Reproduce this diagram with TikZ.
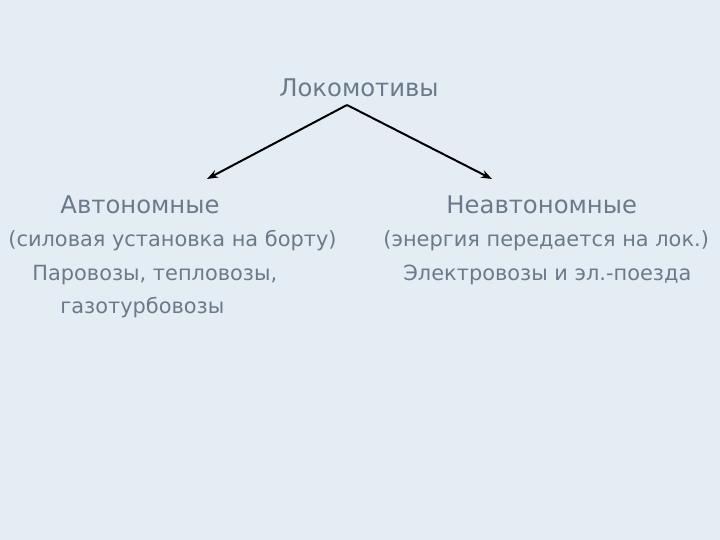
\documentclass[tikz,border=0pt]{standalone}
\usepackage{fontspec}
\setmainfont{DejaVu Sans}
\usetikzlibrary{arrows.meta}
\definecolor{bgcol}{HTML}{E5EDF4}
\definecolor{txtcol}{HTML}{6B7A8A}
\tikzset{lbl/.style={text=txtcol, inner sep=0pt, anchor=west, font=\fontsize{20.9}{24}\selectfont},
         head/.style={lbl, font=\fontsize{24.3}{28}\selectfont},
         arr/.style={line width=2pt, -{Stealth[length=11pt, width=8pt]}}}

\begin{document}
\begin{tikzpicture}[x=1pt, y=-1pt, thick]
                \fill[bgcol] (0,0) rectangle (720,540);
                \useasboundingbox (0,0) rectangle (720,540);
                \node[head, anchor=center] (loko) at (359, 88) {Локомотивы};
                \coordinate (top) at (347, 105);
                \coordinate (tl) at (207, 179);
                \coordinate (tr) at (492, 179);
                \node[head] (avt) at (60, 205) {Автономные};
                \node[lbl] (avt1) at (8, 241) {(силовая установка на борту)};
                \node[lbl] (avt2) at (32, 275) {Паровозы, тепловозы,};
                \node[lbl] (avt3) at (60, 308) {газотурбовозы};
                \node[head] (neavt) at (446, 205) {Неавтономные};
                \node[lbl] (neavt1) at (383, 241) {(энергия передается на лок.)};
                \node[lbl] (neavt2) at (403, 275) {Электровозы и эл.-поезда};
                \draw[arr] (top)--(tl);
                \draw[arr] (top)--(tr);
            \end{tikzpicture}
\end{document}
